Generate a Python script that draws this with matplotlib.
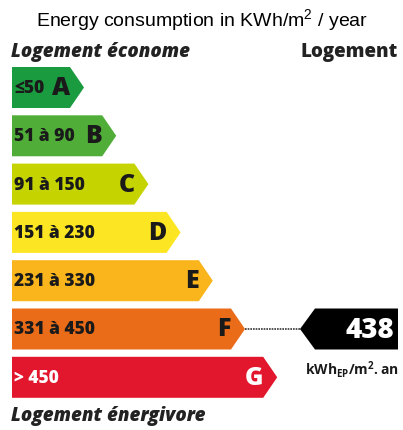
import matplotlib.pyplot as plt
from matplotlib.patches import Polygon

# data
letters = ["A", "B", "C", "D", "E", "F", "G"]
ranges = ["≤50", "51 à 90", "91 à 150", "151 à 230", "231 à 330", "331 à 450", "> 450"]
colors = ["#1b9b40", "#50ae38", "#c5d300", "#fce523", "#f9b51b", "#ea6c18", "#e2162c"]
text_colors = ["#1a1a1a"] * 6 + ["white"]
value = 438
value_class = "F"
title = "Energy consumption in KWh/m$^2$ / year"
unit = r"$\mathbf{kWh_{EP}/m^2.an}$"

plt.rcParams["mathtext.fontset"] = "custom"
plt.rcParams["mathtext.rm"] = "Liberation Sans"
plt.rcParams["mathtext.bf"] = "Open Sans:bold"

W, H = 403, 430
fig = plt.figure(figsize=(W / 100, H / 100), dpi=100)
ax = fig.add_axes([0, 0, 1, 1])
ax.set_xlim(0, W)
ax.set_ylim(H, 0)
ax.axis("off")

bold = dict(family="Open Sans", fontweight="heavy")

ax.text(W / 2, 21, title, ha="center", va="center", fontsize=14,
        family="Liberation Sans")
ax.text(11, 52, "Logement économe", ha="left", va="center", fontsize=13.5,
        style="italic", color="#222222", **bold)
ax.text(398, 52, "Logement", ha="right", va="center", fontsize=13.5,
        color="#222222", **bold)
ax.text(11, 416, "Logement énergivore", ha="left", va="center", fontsize=13.5,
        style="italic", color="#222222", **bold)

x0, top0, bh, pitch = 12, 67, 41, 48.3
tip = 14
for i, (let, rng, col, tc) in enumerate(zip(letters, ranges, colors, text_colors)):
    y1 = top0 + i * pitch
    y2 = y1 + bh
    xr = 70 + i * 32.2
    ax.add_patch(Polygon([(x0, y1), (xr, y1), (xr + tip, (y1 + y2) / 2), (xr, y2), (x0, y2)],
                         closed=True, fc=col, ec="none"))
    ym = (y1 + y2) / 2
    ax.text(14, ym + 1, rng, ha="left", va="center", fontsize=12.5, color=tc, **bold)
    ax.text(xr, ym + 1, let, ha="right", va="center", fontsize=18, color=tc, **bold)
    if let == value_class:
        bx1, bx2, btip = 315, 398, 300
        ax.plot([xr + tip, btip], [ym, ym], ls=(0, (1, 0.6)), lw=1.2, color="#333333")
        ax.add_patch(Polygon([(btip, ym), (bx1, y1), (bx2, y1), (bx2, y2), (bx1, y2)],
                             closed=True, fc="black", ec="none"))
        ax.text(394, ym + 1, str(value), ha="right", va="center", fontsize=20,
                color="white", **bold)
        ax.text(352, y2 + 20, unit, ha="center", va="center",
                fontsize=10, color="#1a1a1a")

fig.savefig("out.png", dpi=100)
